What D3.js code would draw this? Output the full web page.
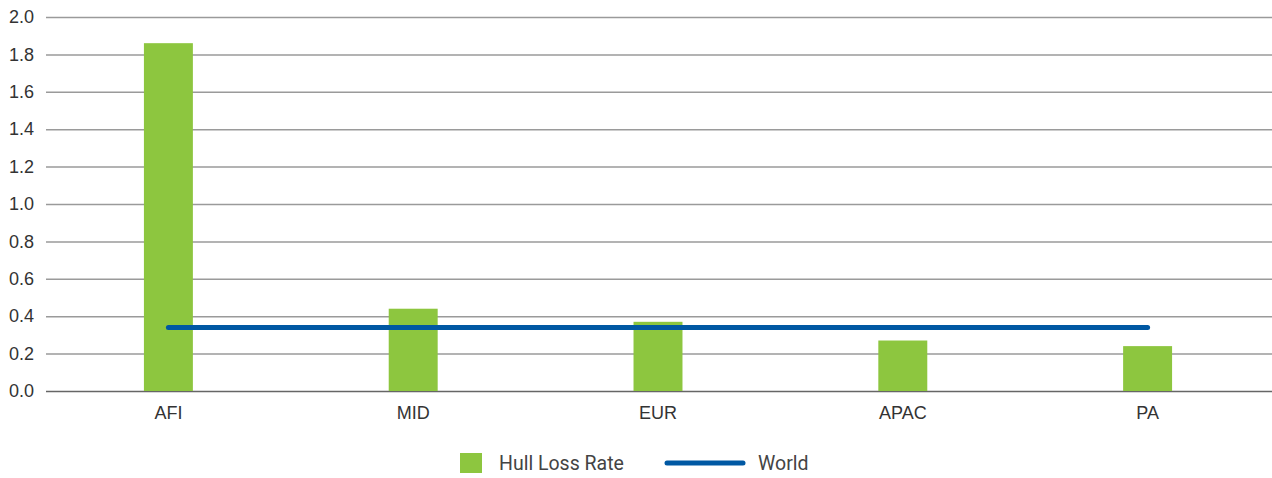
<!DOCTYPE html>
<html>
<head>
<meta charset="utf-8">
<script src="https://cdn.jsdelivr.net/npm/d3@7"></script>
<style>
  body { margin: 0; background: #fff; }
  svg { display: block; font-family: "Roboto", "DejaVu Sans", sans-serif; }
  .tick text { fill: #333; font-size: 18px; }
</style>
</head>
<body>
<div id="chart"></div>
<script>
const regions = ["AFI", "MID", "EUR", "APAC", "PA"];
const hullLossRate = [1.86, 0.44, 0.37, 0.27, 0.24];
const worldRate = [0.34, 0.34, 0.34, 0.34, 0.34];
const yTicks = [0, 0.2, 0.4, 0.6, 0.8, 1.0, 1.2, 1.4, 1.6, 1.8, 2.0];

const width = 1272;
const height = 478;
const margin = { top: 17, right: 2, bottom: 87, left: 46 };

const barColor = "#8dc63f";
const lineColor = "#0058a3";

const svg = d3
  .select("#chart")
  .append("svg")
  .attr("width", width)
  .attr("height", height);

const xScale = d3
  .scaleBand()
  .domain(regions)
  .range([margin.left, width - margin.right])
  .paddingInner(0.8)
  .paddingOuter(0.4);

const yScale = d3
  .scaleLinear()
  .domain([0, 2])
  .range([height - margin.bottom, margin.top]);

// gridlines + y labels
const yAxis = svg
  .append("g")
  .attr("transform", `translate(${margin.left}, 0)`)
  .call(
    d3
      .axisLeft(yScale)
      .tickValues(yTicks)
      .tickFormat(d3.format(".1f"))
      .tickSize(-(width - margin.left))
      .tickPadding(12)
  );
yAxis.select(".domain").remove();
yAxis
  .selectAll(".tick line")
  .attr("stroke", (d) => (d === 0 ? "#666" : "#9a9a9a"))
  .attr("stroke-width", 1.5);

// bars
svg
  .append("g")
  .selectAll("rect")
  .data(regions)
  .join("rect")
  .attr("x", (d) => xScale(d))
  .attr("y", (d, i) => yScale(hullLossRate[i]))
  .attr("width", xScale.bandwidth())
  .attr("height", (d, i) => yScale(0) - yScale(hullLossRate[i]))
  .attr("fill", barColor);

// world line
const line = d3
  .line()
  .x((d, i) => xScale(regions[i]) + xScale.bandwidth() / 2)
  .y((d) => yScale(d));

svg
  .append("path")
  .datum(worldRate)
  .attr("d", line)
  .attr("fill", "none")
  .attr("stroke", lineColor)
  .attr("stroke-width", 5)
  .attr("stroke-linecap", "round");

// x labels
const xAxis = svg
  .append("g")
  .attr("transform", `translate(0, ${yScale(0)})`)
  .call(d3.axisBottom(xScale).tickSize(0).tickPadding(15));
xAxis.select(".domain").remove();

// legend
const legend = svg.append("g").attr("transform", "translate(460, 463)");
legend
  .append("rect")
  .attr("x", 0)
  .attr("y", -10)
  .attr("width", 22)
  .attr("height", 20)
  .attr("fill", barColor);
legend
  .append("text")
  .attr("x", 39)
  .attr("y", 0)
  .attr("dy", "0.35em")
  .attr("fill", "#444")
  .style("font-size", "19.5px")
  .text("Hull Loss Rate");
legend
  .append("line")
  .attr("x1", 207)
  .attr("x2", 283)
  .attr("y1", 0)
  .attr("y2", 0)
  .attr("stroke", lineColor)
  .attr("stroke-width", 5)
  .attr("stroke-linecap", "round");
legend
  .append("text")
  .attr("x", 298)
  .attr("y", 0)
  .attr("dy", "0.35em")
  .attr("fill", "#444")
  .style("font-size", "19.5px")
  .text("World");
</script>
</body>
</html>
